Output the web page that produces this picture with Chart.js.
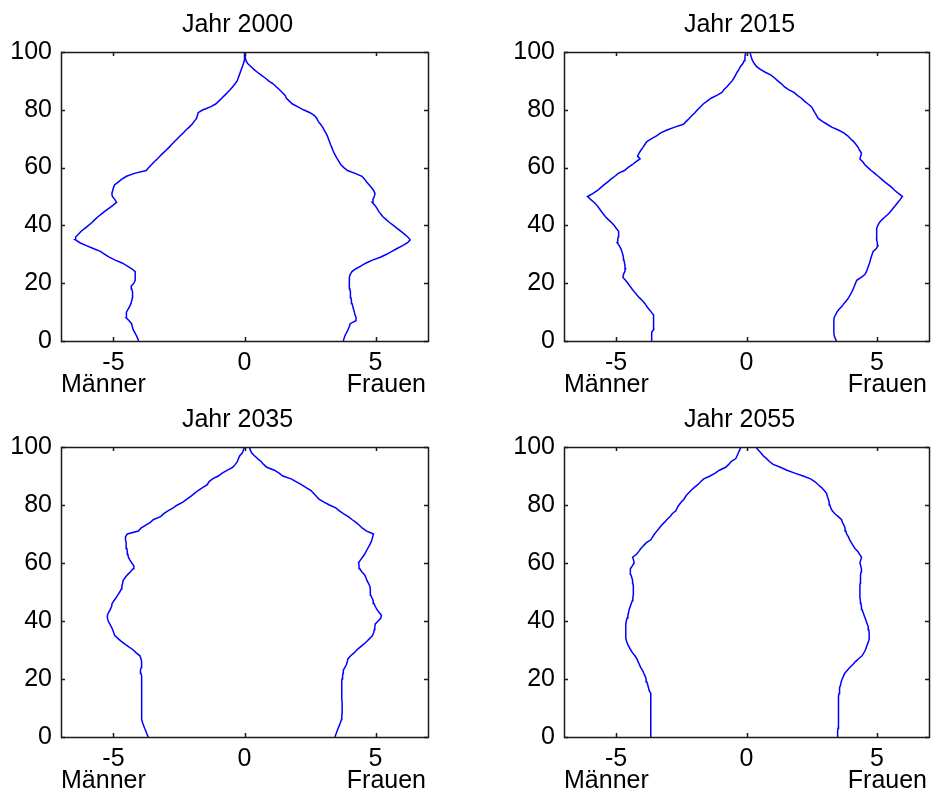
<!DOCTYPE html>
<html>
<head>
<meta charset="utf-8">
<title>Bevölkerungspyramiden</title>
<script src="https://cdn.jsdelivr.net/npm/chart.js@4.4.1/dist/chart.umd.min.js"></script>
<style>
  body { margin: 0; background: #fff; }
  #wrap { position: relative; width: 931px; height: 793px; background: #fff; }
  canvas { position: absolute; }
</style>
</head>
<body>
<div id="wrap">
  <canvas id="c2000" width="465" height="396" style="left:0px;top:0px"></canvas>
  <canvas id="c2015" width="465" height="396" style="left:466px;top:0px"></canvas>
  <canvas id="c2035" width="465" height="397" style="left:0px;top:396px"></canvas>
  <canvas id="c2055" width="465" height="397" style="left:466px;top:396px"></canvas>
</div>
<script>
//------------------ datos: edad (0-100) y porcentaje por sexo, hombres negativos ------------------
const alter = [0,1,2,3,4,5,6,7,8,9,10,11,12,13,14,15,16,17,18,19,20,21,22,23,24,25,26,27,28,29,30,
  31,32,33,34,35,36,37,38,39,40,41,42,43,44,45,46,47,48,49,50,51,52,53,54,55,56,57,58,59,60,
  61,62,63,64,65,66,67,68,69,70,71,72,73,74,75,76,77,78,79,80,81,82,83,84,85,86,87,88,89,90,
  91,92,93,94,95,96,97,98,99,100]

const xTicks = [-5, 0, 5]
const yTicks = [0, 20, 40, 60, 80, 100]

const maenner2000 = [-4.04,-4.08,-4.13,-4.19,-4.25,-4.28,-4.31,-4.40,-4.51,-4.51,
  -4.50,-4.44,-4.38,-4.33,-4.30,-4.28,-4.26,-4.28,-4.30,-4.32,
  -4.22,-4.17,-4.17,-4.17,-4.17,-4.30,-4.48,-4.67,-4.93,-5.16,
  -5.33,-5.50,-5.77,-6.03,-6.28,-6.45,-6.44,-6.33,-6.23,-6.09,
  -5.95,-5.82,-5.71,-5.59,-5.45,-5.31,-5.16,-5.01,-4.88,-4.95,
  -5.04,-5.06,-5.03,-5.00,-4.96,-4.82,-4.68,-4.50,-4.20,-3.75,
  -3.65,-3.55,-3.44,-3.33,-3.22,-3.11,-2.99,-2.88,-2.78,-2.67,
  -2.56,-2.45,-2.34,-2.23,-2.11,-2.00,-1.92,-1.83,-1.80,-1.77,
  -1.58,-1.30,-1.10,-0.98,-0.87,-0.76,-0.65,-0.54,-0.45,-0.36,
  -0.28,-0.24,-0.20,-0.16,-0.12,-0.08,-0.04,-0.01,0,0,0]
const frauen2000 = [3.77,3.80,3.84,3.90,3.95,4.00,4.03,4.25,4.26,4.22,
  4.19,4.16,4.13,4.10,4.08,4.06,4.05,4.03,4.02,4.00,
  3.99,4.00,4.01,4.03,4.10,4.25,4.45,4.64,4.88,5.18,
  5.42,5.62,5.82,6.03,6.22,6.32,6.23,6.10,5.96,5.82,
  5.68,5.53,5.41,5.28,5.19,5.11,5.05,4.97,4.87,4.90,
  4.95,4.98,4.93,4.85,4.76,4.66,4.58,4.48,4.22,3.93,
  3.79,3.68,3.61,3.54,3.48,3.42,3.37,3.33,3.28,3.24,
  3.20,3.16,3.10,3.04,2.98,2.90,2.81,2.76,2.67,2.50,
  2.25,2.04,1.83,1.71,1.60,1.55,1.44,1.33,1.21,1.09,
  0.92,0.79,0.64,0.49,0.36,0.24,0.12,0.06,0.03,0.03,0.03]

const maenner2015 = [-3.64,-3.64,-3.64,-3.63,-3.56,-3.55,-3.56,-3.56,-3.57,-3.58,
  -3.65,-3.74,-3.83,-3.90,-4.00,-4.11,-4.21,-4.30,-4.39,-4.47,
  -4.55,-4.64,-4.74,-4.72,-4.67,-4.64,-4.66,-4.68,-4.70,-4.72,
  -4.75,-4.78,-4.82,-4.88,-4.96,-4.94,-4.92,-4.90,-4.91,-5.00,
  -5.07,-5.18,-5.30,-5.41,-5.50,-5.58,-5.66,-5.74,-5.85,-5.98,
  -6.10,-5.90,-5.73,-5.60,-5.47,-5.33,-5.20,-5.05,-4.92,-4.68,
  -4.55,-4.38,-4.25,-4.08,-4.18,-4.12,-4.05,-3.97,-3.90,-3.82,
  -3.64,-3.45,-3.29,-3.05,-2.75,-2.42,-2.31,-2.20,-2.09,-1.98,
  -1.88,-1.77,-1.66,-1.51,-1.36,-1.14,-0.94,-0.86,-0.75,-0.65,
  -0.55,-0.48,-0.42,-0.36,-0.29,-0.23,-0.14,-0.09,-0.06,-0.05,-0.04]
const frauen2015 = [3.45,3.40,3.36,3.35,3.35,3.35,3.35,3.35,3.36,3.41,
  3.47,3.55,3.66,3.74,3.84,3.92,3.98,4.04,4.09,4.14,
  4.18,4.23,4.40,4.54,4.60,4.64,4.68,4.72,4.75,4.78,
  4.82,4.86,4.98,5.04,5.02,4.99,4.99,4.99,4.99,5.00,
  5.04,5.10,5.20,5.32,5.45,5.54,5.63,5.72,5.81,5.90,
  5.98,5.84,5.70,5.59,5.45,5.31,5.18,5.05,4.92,4.78,
  4.66,4.54,4.46,4.35,4.38,4.41,4.34,4.28,4.20,4.11,
  3.99,3.88,3.73,3.52,3.27,3.09,2.91,2.75,2.69,2.62,
  2.56,2.50,2.36,2.22,2.11,1.95,1.82,1.61,1.45,1.34,
  1.20,1.08,0.94,0.72,0.53,0.38,0.30,0.23,0.19,0.16,0.13]

const maenner2035 = [-3.67,-3.72,-3.76,-3.81,-3.85,-3.89,-3.92,-3.92,-3.93,-3.93,
  -3.93,-3.93,-3.92,-3.92,-3.92,-3.92,-3.92,-3.92,-3.92,-3.92,
  -3.92,-3.93,-3.95,-3.97,-3.94,-3.92,-3.93,-3.95,-3.99,-4.13,
  -4.24,-4.40,-4.56,-4.70,-4.83,-4.95,-4.99,-5.03,-5.08,-5.14,
  -5.20,-5.23,-5.23,-5.18,-5.12,-5.07,-5.05,-4.98,-4.90,-4.83,
  -4.76,-4.70,-4.68,-4.65,-4.63,-4.55,-4.46,-4.35,-4.25,-4.22,
  -4.30,-4.37,-4.43,-4.45,-4.47,-4.49,-4.51,-4.52,-4.54,-4.54,
  -4.47,-4.05,-3.95,-3.78,-3.59,-3.47,-3.20,-3.08,-2.92,-2.72,
  -2.56,-2.35,-2.20,-2.05,-1.91,-1.77,-1.60,-1.42,-1.36,-1.22,
  -1.00,-0.85,-0.65,-0.45,-0.35,-0.27,-0.23,-0.18,-0.08,-0.04,-0.01]
const frauen2035 = [3.45,3.49,3.53,3.57,3.62,3.66,3.70,3.71,3.72,3.73,
  3.73,3.72,3.72,3.71,3.71,3.71,3.71,3.71,3.71,3.71,
  3.72,3.74,3.76,3.77,3.83,3.89,3.92,3.95,4.05,4.18,
  4.28,4.41,4.55,4.67,4.78,4.88,4.93,4.95,4.97,4.99,
  5.10,5.20,5.22,5.13,5.05,4.99,4.94,4.91,4.86,4.81,
  4.80,4.80,4.78,4.73,4.67,4.63,4.58,4.47,4.40,4.37,
  4.35,4.42,4.50,4.58,4.64,4.70,4.76,4.82,4.86,4.89,
  4.92,4.66,4.50,4.38,4.25,4.10,3.96,3.77,3.62,3.48,
  3.24,3.03,2.84,2.74,2.64,2.54,2.35,2.17,1.98,1.78,
  1.46,1.32,1.14,0.85,0.73,0.63,0.50,0.38,0.27,0.22,0.19]

const maenner2055 = [-3.67,-3.67,-3.67,-3.67,-3.67,-3.67,-3.67,-3.67,-3.67,-3.67,
  -3.67,-3.67,-3.67,-3.67,-3.67,-3.69,-3.73,-3.76,-3.79,-3.82,
  -3.85,-3.89,-3.94,-3.99,-4.06,-4.11,-4.16,-4.21,-4.28,-4.37,
  -4.44,-4.50,-4.56,-4.60,-4.63,-4.63,-4.63,-4.63,-4.63,-4.63,
  -4.61,-4.58,-4.55,-4.52,-4.50,-4.46,-4.42,-4.38,-4.36,-4.34,
  -4.33,-4.34,-4.35,-4.36,-4.37,-4.40,-4.44,-4.45,-4.46,-4.38,
  -4.31,-4.33,-4.37,-4.22,-4.13,-4.05,-3.95,-3.84,-3.67,-3.60,
  -3.53,-3.44,-3.35,-3.26,-3.15,-3.05,-2.93,-2.85,-2.71,-2.66,
  -2.59,-2.50,-2.40,-2.33,-2.24,-2.13,-2.01,-1.87,-1.76,-1.64,
  -1.40,-1.20,-1.04,-0.80,-0.68,-0.59,-0.41,-0.36,-0.31,-0.26,-0.21]
const frauen2055 = [3.48,3.49,3.50,3.51,3.51,3.52,3.52,3.52,3.53,3.53,
  3.53,3.53,3.54,3.54,3.54,3.55,3.56,3.58,3.61,3.63,
  3.67,3.72,3.77,3.87,3.96,4.08,4.18,4.30,4.43,4.50,
  4.56,4.60,4.64,4.68,4.71,4.71,4.70,4.69,4.67,4.63,
  4.59,4.55,4.51,4.47,4.43,4.41,4.39,4.37,4.35,4.35,
  4.35,4.35,4.35,4.36,4.36,4.37,4.39,4.40,4.41,4.38,
  4.35,4.38,4.41,4.34,4.27,4.16,4.09,4.02,3.96,3.91,
  3.84,3.81,3.78,3.74,3.68,3.64,3.52,3.39,3.29,3.23,
  3.20,3.17,3.14,3.10,3.07,2.98,2.88,2.75,2.63,2.46,
  2.17,1.85,1.55,1.30,1.02,0.88,0.77,0.64,0.55,0.45,0.36]
//----------------//----------------//----------------//----------------//----------------

const fuente = '"Liberation Sans", Arial, sans-serif'

//plugin que dibuja el marco, las marcas hacia adentro, el titulo y los textos Männer / Frauen
const rahmen = {
  id: 'rahmen',
  afterDraw(chart, args, opts) {
    const ctx = chart.ctx
    const a = chart.chartArea
    const x = chart.scales.x
    const y = chart.scales.y
    ctx.save()
    ctx.strokeStyle = '#1a1a1a'
    ctx.lineWidth = 1.5
    ctx.strokeRect(a.left + 0.5, a.top + 0.5, a.right - a.left, a.bottom - a.top)

    ctx.beginPath()
    xTicks.forEach(function (v) {
      const px = Math.round(x.getPixelForValue(v)) + 0.5
      ctx.moveTo(px, a.bottom); ctx.lineTo(px, a.bottom - 4)
      ctx.moveTo(px, a.top); ctx.lineTo(px, a.top + 4)
    })
    yTicks.forEach(function (v) {
      const py = Math.round(y.getPixelForValue(v)) + 0.5
      ctx.moveTo(a.left, py); ctx.lineTo(a.left + 4, py)
      ctx.moveTo(a.right, py); ctx.lineTo(a.right - 4, py)
    })
    ctx.stroke()

    ctx.fillStyle = '#000'
    ctx.font = '25px ' + fuente
    ctx.textBaseline = 'alphabetic'
    ctx.textAlign = 'center'
    ctx.fillText(opts.titel, (a.left + a.right) / 2 - 7, a.top - 20)
    ctx.textAlign = 'left'
    ctx.fillText('Männer', a.left, a.bottom + 51)
    ctx.textAlign = 'right'
    ctx.fillText('Frauen', a.right - 2, a.bottom + 51)
    ctx.restore()
  }
}

//se crea una piramide por canvas, box = borde del area del grafico dentro del canvas
function Piramide(id, titel, maenner, frauen, box) {
  const canvas = document.getElementById(id)
  const linea = { borderColor: '#0000ff', borderWidth: 1.5, showLine: true, pointRadius: 0, fill: false }
  return new Chart(canvas, {
    type: 'scatter',
    data: {
      datasets: [
        Object.assign({ label: 'Männer', data: alter.map(function (e, i) { return { x: maenner[i], y: e } }) }, linea),
        Object.assign({ label: 'Frauen', data: alter.map(function (e, i) { return { x: frauen[i], y: e } }) }, linea)
      ]
    },
    options: {
      responsive: false,
      animation: false,
      devicePixelRatio: 1,
      layout: { padding: { top: box.top, right: canvas.width - box.right, left: 0, bottom: 0 } },
      plugins: {
        legend: { display: false },
        tooltip: { enabled: false },
        title: { display: false },
        rahmen: { titel: titel }
      },
      scales: {
        x: {
          type: 'linear', min: -7, max: 7,
          grid: { display: false, drawTicks: false }, border: { display: false },
          afterBuildTicks: function (s) { s.ticks = xTicks.map(function (v) { return { value: v } }) },
          afterFit: function (s) { s.height = canvas.height - box.bottom },
          ticks: { padding: 7, color: '#000', font: { family: fuente, size: 25 }, maxRotation: 0,
                   callback: function (v) { return String(v) } }
        },
        y: {
          type: 'linear', min: 0, max: 100,
          grid: { display: false, drawTicks: false }, border: { display: false },
          afterBuildTicks: function (s) { s.ticks = yTicks.map(function (v) { return { value: v } }) },
          afterFit: function (s) { s.width = box.left },
          ticks: { padding: 9, color: '#000', font: { family: fuente, size: 25 },
                   callback: function (v) { return String(v) } }
        }
      }
    },
    plugins: [rahmen]
  })
}

Piramide('c2000', 'Jahr 2000', maenner2000, frauen2000, { left: 61, top: 52, right: 428, bottom: 341 })
Piramide('c2015', 'Jahr 2015', maenner2015, frauen2015, { left: 98, top: 52, right: 463, bottom: 341 })
Piramide('c2035', 'Jahr 2035', maenner2035, frauen2035, { left: 61, top: 51, right: 428, bottom: 341 })
Piramide('c2055', 'Jahr 2055', maenner2055, frauen2055, { left: 98, top: 51, right: 463, bottom: 341 })
</script>
</body>
</html>
